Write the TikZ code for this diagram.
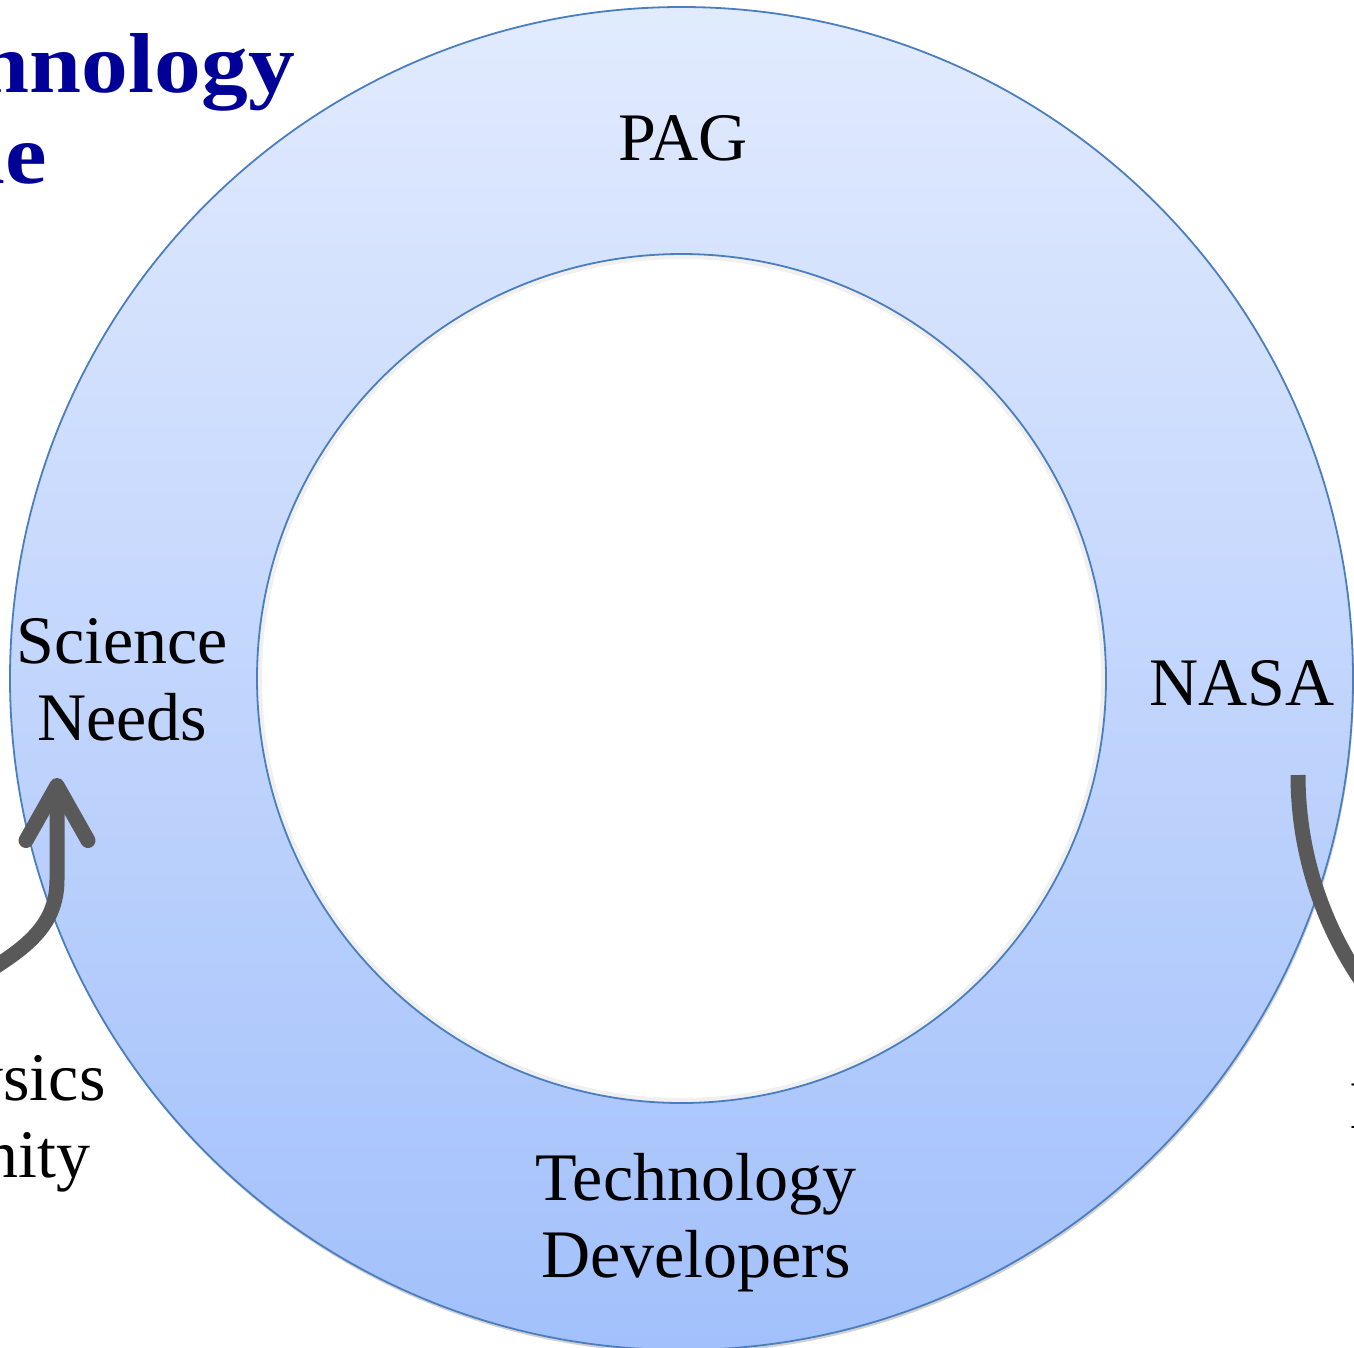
\documentclass[tikz,border=0pt]{standalone}
\usepackage{fontspec}
\setmainfont{Liberation Serif}
\newfontfamily\titlefont[FakeStretch=1.1]{Liberation Serif}
\usetikzlibrary{arrows.meta}

\definecolor{ringtop}{HTML}{E2EBFE}
\definecolor{ringbot}{HTML}{A2C0FB}
\definecolor{ringline}{HTML}{4A7EBE}
\definecolor{titleblue}{HTML}{000099}

\tikzset{
  cycle text/.style={font=\fontsize{68}{77}\selectfont, align=center, inner sep=0pt},
  title text/.style={font=\titlefont\fontsize{85}{100}\selectfont\bfseries, text=titleblue, inner sep=0pt},
  flow/.style={line width=15pt, draw=black!65},
}

\begin{document}
\begin{tikzpicture}[x=1pt,y=1pt]
  \useasboundingbox (0,0) rectangle (1354,-1347);

  % Ring parameters (pixels of the slide)
  \def\cx{681.5}
  \def\cy{-678.5}
  \def\ro{671.5}
  \def\ri{424.5}

  % Soft shadow under the ring
  \fill[black, opacity=.18] (\cx+1,\cy-3) circle[radius=\ro];

  % Ring with vertical gradient
  \shade[top color=ringtop, bottom color=ringbot, even odd rule]
    (\cx,\cy) circle[radius=\ro] (\cx,\cy) circle[radius=\ri];
  \fill[white] (\cx,\cy) circle[radius=\ri];
  \draw[black, opacity=.06, line width=5pt] (\cx,\cy) circle[radius=\ri-2.5];

  % Ring borders
  \draw[ringline, line width=1.8pt] (\cx,\cy) circle[radius=\ro];
  \draw[ringline, line width=1.8pt] (\cx,\cy) circle[radius=\ri];

  % Title (cut by the slide edge)
  \node[title text, anchor=base east] (title1) at (295,-92) {Technology};
  \node[title text, anchor=base east] (title2) at (47,-183) {Cycle};

  % Stations on the ring
  \node[cycle text] (pag) at (683,-138) {PAG};
  \node[cycle text] (sci) at (122,-680) {Science\\Needs};
  \node[cycle text] (nasa) at (1242,-683) {NASA};
  \node[cycle text] (techdev) at (696,-1223) {Technology\\Developers};

  % Outside parties
  \node[cycle text] (community) at (-72,-1123) {Astrophysics\\Community};
  \node[cycle text, anchor=base west] (industry) at (1349,-1128) {Industry};

  % Arrow ends
  \coordinate (comm-out) at (-40,-990);
  \coordinate (sci-in) at (57,-778);
  \coordinate (nasa-out) at (1298,-775);

  % Community feeds science needs
  \draw[flow, line cap=round, -{Straight Barb[length=55pt, width=62pt, round]}]
    (comm-out) to[out=35, in=-90] (57,-880) -- (sci-in);

  % NASA out to the right
  \draw[flow] (nasa-out) arc[start angle=180, end angle=228, radius=366];

\end{tikzpicture}
\end{document}
